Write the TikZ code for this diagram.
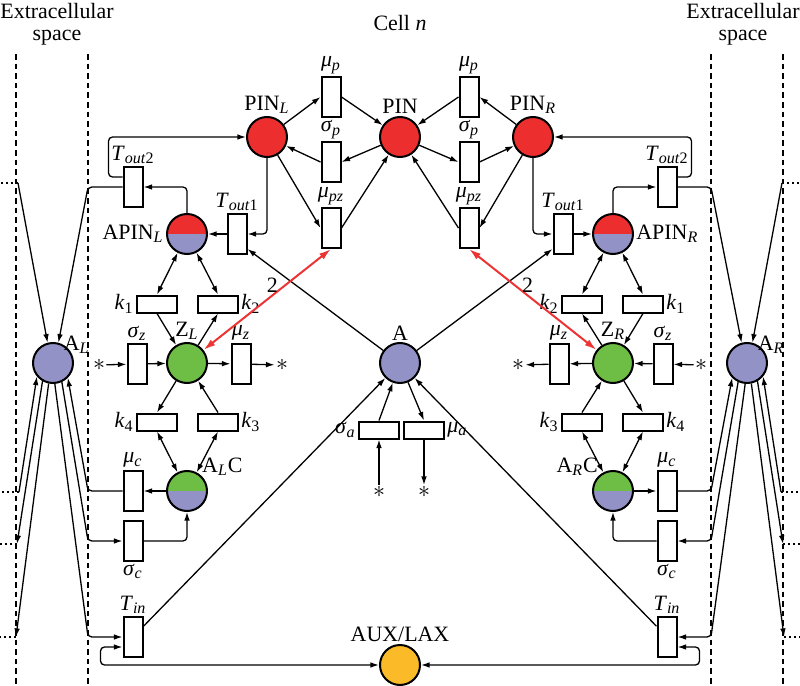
\documentclass[tikz,border=0pt,11pt]{standalone}
\usepackage{fontspec}
\setmainfont{Liberation Serif}
\usetikzlibrary{arrows.meta,calc}
\definecolor{pinred}{RGB}{237,46,46}
\definecolor{lav}{RGB}{146,146,198}
\definecolor{zgreen}{RGB}{110,190,70}
\definecolor{auxor}{RGB}{251,186,40}
\definecolor{redarr}{RGB}{236,52,52}
\tikzset{state/.style={circle,draw=black,line width=1pt,minimum size=20pt,inner sep=0pt},
  trans/.style={rectangle,draw=black,line width=1pt,fill=white,minimum width=9.5pt,minimum height=20pt,inner sep=0pt},
  htrans/.style={trans,minimum width=20pt,minimum height=8.5pt},
  flow/.style={line width=0.65pt,-{Latex[length=4.3pt,width=2.8pt]}},
  bflow/.style={line width=0.65pt,{Latex[length=4.3pt,width=2.8pt]}-{Latex[length=4.3pt,width=2.8pt]}},
  rflow/.style={draw=redarr,line width=1pt,{Latex[length=6pt,width=3.6pt]}-{Latex[length=6pt,width=3.6pt]}},
  zone/.style={line width=0.6pt,dash pattern=on 2.8pt off 2pt},
  nbr/.style={line width=0.9pt,dash pattern=on 0.9pt off 1.6pt},
  lowfill/.style={path picture={\fill[#1] (path picture bounding box.west) rectangle (path picture bounding box.south east);}},
  star/.style={inner sep=0.5pt,font=\large},
  every label/.style={inner sep=1pt}}
\newcommand{\sy}[2]{#1\textsubscript{#2}}
\newcommand{\iv}[2]{\textit{#1}\textsubscript{\textit{#2}}}

\begin{document}
\begin{tikzpicture}[x=0.5pt,y=-0.5pt]
\useasboundingbox (0,0) rectangle (800,686);
% compartments
\draw[zone] (16,54) -- (16,686);
\draw[zone] (88,54) -- (88,686);
\draw[zone] (711,54) -- (711,686);
\draw[zone] (783,54) -- (783,686);
\coordinate (mL) at (88,0);
\coordinate (mR) at (711,0);
\node[align=center] (ecL) at (57,24) {Extracellular\\[-2.5pt]space};
\node[align=center] (ecR) at (743,24) {Extracellular\\[-2.5pt]space};
\node (cell) at (400,23) {Cell \textit{n}};

% places
\node[state,fill=pinred,label=above:\sy{PIN}{\textit{L}}] (pinL) at (267,137) {};
\node[state,fill=pinred,label=above:PIN] (pin) at (400,137) {};
\node[state,fill=pinred,label=above:\sy{PIN}{\textit{R}}] (pinR) at (533,137) {};
\node[state,fill=pinred,lowfill=lav,label=left:\sy{APIN}{\textit{L}}] (apinL) at (187,234) {};
\node[state,fill=pinred,lowfill=lav,label=right:\sy{APIN}{\textit{R}}] (apinR) at (613,234) {};
\node[state,fill=zgreen,label=above:\sy{Z}{\textit{L}}] (zL) at (187,363) {};
\node[state,fill=zgreen,label=above:\sy{Z}{\textit{R}}] (zR) at (613,363) {};
\node[state,fill=zgreen,lowfill=lav,label={[anchor=south west,inner sep=0pt]45:\sy{A}{\textit{L}}C}] (acL) at (187,491) {};
\node[state,fill=zgreen,lowfill=lav,label={[anchor=south east,inner sep=0pt]135:\sy{A}{\textit{R}}C}] (acR) at (613,491) {};
\node[state,fill=lav,label={[inner sep=0.5pt]above:A}] (a) at (400,363) {};
\node[state,fill=lav,label={[anchor=west,inner sep=0pt]60:\sy{A}{\textit{L}}}] (aL) at (53,363) {};
\node[state,fill=lav,label={[anchor=west,inner sep=0pt]60:\sy{A}{\textit{R}}}] (aR) at (747,363) {};
\node[state,fill=auxor,label=above:AUX/LAX] (aux) at (400,665) {};

% transitions
\node[trans,label=above:\iv{μ}{p}] (mupL) at (331,97) {};
\node[trans,label=above:\iv{σ}{p}] (sigpL) at (331,162) {};
\node[trans,label=above:\iv{μ}{pz}] (mupzL) at (331,228) {};
\node[trans,label=above:\iv{μ}{p}] (mupR) at (469,97) {};
\node[trans,label=above:\iv{σ}{p}] (sigpR) at (469,162) {};
\node[trans,label=above:\iv{μ}{pz}] (mupzR) at (469,228) {};
\node[trans,label=above:\sy{\textit{T}}{\textit{out}1}] (toutaL) at (237,234) {};
\node[trans,label=above:\sy{\textit{T}}{\textit{out}2}] (toutbL) at (133,187) {};
\node[trans,label=above:\sy{\textit{T}}{\textit{out}1}] (toutaR) at (563,234) {};
\node[trans,label=above:\sy{\textit{T}}{\textit{out}2}] (toutbR) at (667,187) {};
\node[htrans,label=left:\sy{\textit{k}}{1}] (k1L) at (157,304) {};
\node[htrans,label=right:\sy{\textit{k}}{2}] (k2L) at (218,304) {};
\node[htrans,label=left:\sy{\textit{k}}{4}] (k4L) at (157,422) {};
\node[htrans,label=right:\sy{\textit{k}}{3}] (k3L) at (218,422) {};
\node[htrans,label=left:\sy{\textit{k}}{2}] (k2R) at (582,304) {};
\node[htrans,label=right:\sy{\textit{k}}{1}] (k1R) at (643,304) {};
\node[htrans,label=left:\sy{\textit{k}}{3}] (k3R) at (582,422) {};
\node[htrans,label=right:\sy{\textit{k}}{4}] (k4R) at (643,422) {};
\node[trans,label=above:\iv{σ}{z}] (sigzL) at (137,364) {};
\node[trans,label=above:\iv{μ}{z}] (muzL) at (241,364) {};
\node[trans,label=above:\iv{μ}{z}] (muzR) at (559,364) {};
\node[trans,label=above:\iv{σ}{z}] (sigzR) at (663,364) {};
\node[trans,label=above:\iv{μ}{c}] (mucL) at (133,491) {};
\node[trans,label=below:\iv{σ}{c}] (sigcL) at (133,541) {};
\node[trans,label=above:\iv{T}{in}] (tinL) at (133,637) {};
\node[trans,label=above:\iv{μ}{c}] (mucR) at (667,491) {};
\node[trans,label=below:\iv{σ}{c}] (sigcR) at (667,541) {};
\node[trans,label=above:\iv{T}{in}] (tinR) at (667,637) {};
\node[htrans,label=left:\iv{σ}{a}] (sigA) at (379,430) {};
\node[htrans,label=right:\iv{μ}{a}] (muA) at (424,430) {};

% sources and sinks
\node[star] (szL) at (99,365) {$\ast$};
\node[star] (smL) at (282,365) {$\ast$};
\node[star] (smR) at (518,365) {$\ast$};
\node[star] (szR) at (701,365) {$\ast$};
\node[star] (ssa) at (379,492) {$\ast$};
\node[star] (sma) at (424,492) {$\ast$};

% neighbouring cells
\coordinate (nL1) at (18,183);
\coordinate (nL2) at (19,492);
\coordinate (nL3) at (17,544);
\coordinate (nL4) at (16,637);
\coordinate (nR1) at (782,183);
\coordinate (nR2) at (781,492);
\coordinate (nR3) at (783,544);
\coordinate (nR4) at (784,637);
\draw[nbr] (nL1) -- (0,183);
\draw[nbr] (nL2) -- (0,492);
\draw[nbr] (nL3) -- (0,544);
\draw[nbr] (nL4) -- (0,637);
\draw[nbr] (nR1) -- (800,183);
\draw[nbr] (nR2) -- (800,492);
\draw[nbr] (nR3) -- (800,544);
\draw[nbr] (nR4) -- (800,637);

% PIN cycle
\draw[flow] (pinL) -- (mupL.west);
\draw[flow] (mupL.east) -- (pin);
\draw[flow] (pin) -- (sigpL.east);
\draw[flow] (sigpL.west) -- (pinL);
\draw[flow] (pinL) -- (mupzL.west);
\draw[flow] (mupzL.east) -- (pin);
\draw[flow] (pinR) -- (mupR.east);
\draw[flow] (mupR.west) -- (pin);
\draw[flow] (pin) -- (sigpR.west);
\draw[flow] (sigpR.east) -- (pinR);
\draw[flow] (pinR) -- (mupzR.east);
\draw[flow] (mupzR.west) -- (pin);

% export, left
\draw[flow,rounded corners=2pt] (pinL.south) |- (toutaL.east);
\draw[flow] (toutaL) -- (apinL);
\draw[flow,rounded corners=2pt] (apinL.north) |- (toutbL.east);
\draw[flow,rounded corners=2pt] ([yshift=5pt]toutbL.west) -- ++(-14,0) |- (pinL.west);
\draw[flow,rounded corners=2pt] (toutbL.west) -- (toutbL.west -| mL) -- (aL.75);
\draw[flow] (nL1) -- (aL.105);
\draw[flow] (a) -- (toutaL.-55);
% export, right
\draw[flow,rounded corners=2pt] (pinR.south) |- (toutaR.west);
\draw[flow] (toutaR) -- (apinR);
\draw[flow,rounded corners=2pt] (apinR.north) |- (toutbR.west);
\draw[flow,rounded corners=2pt] ([yshift=5pt]toutbR.east) -- ++(14,0) |- (pinR.east);
\draw[flow,rounded corners=2pt] (toutbR.east) -- (toutbR.east -| mR) -- (aR.105);
\draw[flow] (nR1) -- (aR.75);
\draw[flow] (a) -- (toutaR.-125);

% Z, left
\draw[flow] (szL) -- (sigzL);
\draw[flow] (sigzL) -- (zL);
\draw[flow] (zL) -- (muzL);
\draw[flow] (muzL) -- (smL);
\draw[bflow] (apinL) -- (k1L.north);
\draw[flow] (k1L.south) -- (zL);
\draw[flow] (zL) -- (k2L.south);
\draw[bflow] (k2L.north) -- (apinL);
\draw[flow] (zL) -- (k4L.north);
\draw[bflow] (k4L.south) -- (acL);
\draw[bflow] (acL) -- (k3L.south);
\draw[flow] (k3L.north) -- (zL);
\draw[rflow] (mupzL.south) -- (zL) node[pos=0.46,above,inner sep=1pt,text=black] {2};
% Z, right
\draw[flow] (szR) -- (sigzR);
\draw[flow] (sigzR) -- (zR);
\draw[flow] (zR) -- (muzR);
\draw[flow] (muzR) -- (smR);
\draw[bflow] (apinR) -- (k1R.north);
\draw[flow] (k1R.south) -- (zR);
\draw[flow] (zR) -- (k2R.south);
\draw[bflow] (k2R.north) -- (apinR);
\draw[flow] (zR) -- (k4R.north);
\draw[bflow] (k4R.south) -- (acR);
\draw[bflow] (acR) -- (k3R.south);
\draw[flow] (k3R.north) -- (zR);
\draw[rflow] (mupzR.south) -- (zR) node[pos=0.46,above,inner sep=1pt,text=black] {2};

% complex and uptake, left
\draw[flow] (acL) -- (mucL);
\draw[flow,rounded corners=2pt] (sigcL.east) -| (acL.south);
\draw[flow,rounded corners=2pt] (mucL.west) -- (mucL.west -| mL) -- (aL.-45);
\draw[flow,rounded corners=2pt] (aL.-65) -- (sigcL.west -| mL) -- (sigcL.west);
\draw[flow,rounded corners=2pt] (aL.-85) -- (tinL.west -| mL) -- (tinL.west);
\draw[flow] (nL2) -- (aL.220);
\draw[flow] (aL.240) -- (nL3);
\draw[flow] (aL.258) -- (nL4);
\draw[flow] (tinL) -- (a);
\draw[bflow,rounded corners=2pt] ([yshift=-5pt]tinL.west) -- ++(-22,0) |- (aux.west);
% complex and uptake, right
\draw[flow] (acR) -- (mucR);
\draw[flow,rounded corners=2pt] (sigcR.west) -| (acR.south);
\draw[flow,rounded corners=2pt] (mucR.east) -- (mucR.east -| mR) -- (aR.225);
\draw[flow,rounded corners=2pt] (aR.245) -- (sigcR.east -| mR) -- (sigcR.east);
\draw[flow,rounded corners=2pt] (aR.265) -- (tinR.east -| mR) -- (tinR.east);
\draw[flow] (nR2) -- (aR.-40);
\draw[flow] (aR.-60) -- (nR3);
\draw[flow] (aR.-78) -- (nR4);
\draw[flow] (tinR) -- (a);
\draw[bflow,rounded corners=2pt] ([yshift=-5pt]tinR.east) -- ++(22,0) |- (aux.east);

% auxin turnover
\draw[flow] (sigA.north) -- (a);
\draw[flow] (a) -- (muA.north);
\draw[flow] (ssa) -- (sigA);
\draw[flow] (muA) -- (sma);
\end{tikzpicture}
\end{document}
